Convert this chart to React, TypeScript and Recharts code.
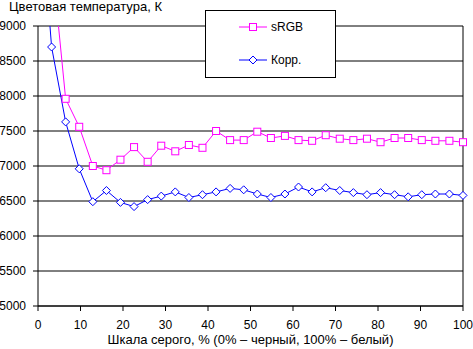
import React from "react";
import {
  CartesianGrid,
  Legend,
  Line,
  LineChart,
  ReferenceLine,
  XAxis,
  YAxis,
} from "recharts";

// gray level, % (0% black .. 100% white)
const grayLevels = [
  0, 3.2, 6.5, 9.7, 12.9, 16.1, 19.4, 22.6, 25.8, 29.0, 32.3, 35.5, 38.7, 41.9,
  45.2, 48.4, 51.6, 54.8, 58.1, 61.3, 64.5, 67.7, 71.0, 74.2, 77.4, 80.6, 83.9,
  87.1, 90.3, 93.5, 96.8, 100,
];

// colour temperature, K
const srgb = [
  12000, 10000, 7960, 7560, 7000, 6940, 7090, 7270, 7060, 7290, 7210, 7300,
  7260, 7500, 7370, 7370, 7490, 7400, 7430, 7370, 7360, 7440, 7390, 7370, 7390,
  7340, 7400, 7400, 7370, 7360, 7360, 7340,
];

const korr = [
  11200, 8700, 7630, 6960, 6490, 6650, 6480, 6420, 6520, 6570, 6630, 6550,
  6590, 6630, 6680, 6660, 6600, 6550, 6600, 6700, 6630, 6690, 6650, 6620, 6590,
  6620, 6590, 6560, 6590, 6600, 6600, 6580,
];

const xTicks = [0, 10, 20, 30, 40, 50, 60, 70, 80, 90, 100];
const yTicks = [5000, 5500, 6000, 6500, 7000, 7500, 8000, 8500, 9000];

const MAGENTA = "#FF00FF";
const BLUE = "#0000FF";

const data = grayLevels.map((x, i) => ({ x, srgb: srgb[i], korr: korr[i] }));

const SquareDot = (props: any) => {
  const { cx, cy, index } = props;
  if (cx == null || cy == null) return <g key={index} />;
  return (
    <rect
      key={index}
      x={cx - 3.5}
      y={cy - 3.5}
      width={7}
      height={7}
      fill="#fff"
      stroke={MAGENTA}
    />
  );
};

const DiamondDot = (props: any) => {
  const { cx, cy, index } = props;
  if (cx == null || cy == null) return <g key={index} />;
  return (
    <path
      key={index}
      d={`M${cx - 4},${cy} L${cx},${cy - 4} L${cx + 4},${cy} L${cx},${cy + 4} Z`}
      fill="#fff"
      stroke={BLUE}
    />
  );
};

function LegendBox(props: any) {
  const { payload = [] } = props;
  return (
    <div
      style={{
        position: "relative",
        width: 131,
        height: 68,
        boxSizing: "border-box",
        border: "1px solid #000",
        background: "#fff",
      }}
    >
      {payload.map((entry: any, i: number) => {
        const isSquare = entry.dataKey === "srgb";
        return (
          <div
            key={entry.value}
            style={{
              position: "absolute",
              left: 33,
              top: i === 0 ? 9 : 42,
              height: 14,
              display: "flex",
              alignItems: "center",
            }}
          >
            <svg width={28} height={10} style={{ display: "block" }}>
              <line x1={0} y1={5} x2={28} y2={5} stroke={entry.color} />
              {isSquare ? (
                <rect x={10.5} y={1.5} width={7} height={7} fill="#fff" stroke={entry.color} />
              ) : (
                <path d="M10,5 L14,1 L18,5 L14,9 Z" fill="#fff" stroke={entry.color} />
              )}
            </svg>
            <span style={{ marginLeft: 4, fontSize: 12, color: "#000" }}>
              {entry.value}
            </span>
          </div>
        );
      })}
    </div>
  );
}

export default function App() {
  return (
    <div
      style={{
        position: "absolute",
        left: 0,
        top: 0,
        width: 473,
        height: 349,
        background: "#fff",
        fontFamily: '"Liberation Sans", Arial, sans-serif',
      }}
    >
      <LineChart
        width={473}
        height={349}
        data={data}
        margin={{ top: 26, right: 10, bottom: 0, left: 0 }}
      >
        <CartesianGrid vertical={false} stroke="#000" />
        <XAxis
          dataKey="x"
          type="number"
          domain={[0, 100]}
          ticks={xTicks}
          interval={0}
          height={43}
          tickSize={5}
          tickMargin={9}
          stroke="#000"
          tick={{ fill: "#000", fontSize: 12 }}
          label={{
            value: "Шкала серого, % (0% – черный, 100% – белый)",
            position: "insideBottom",
            offset: 5,
            fill: "#000",
            fontSize: 13,
          }}
        />
        <YAxis
          type="number"
          domain={[5000, 9000]}
          ticks={yTicks}
          interval={0}
          allowDataOverflow
          width={38}
          tickSize={5}
          tickMargin={7}
          stroke="#000"
          tick={{ fill: "#000", fontSize: 12 }}
        />
        <ReferenceLine x={100} stroke="#000" />
        <Legend
          layout="horizontal"
          verticalAlign="middle"
          align="center"
          content={<LegendBox />}
          wrapperStyle={{ left: 205, top: 10, width: 131, height: 68 }}
        />
        <Line
          dataKey="srgb"
          name="sRGB"
          stroke={MAGENTA}
          strokeWidth={1}
          dot={SquareDot}
          activeDot={false}
          isAnimationActive={false}
        />
        <Line
          dataKey="korr"
          name="Корр."
          stroke={BLUE}
          strokeWidth={1}
          dot={DiamondDot}
          activeDot={false}
          isAnimationActive={false}
        />
      </LineChart>
      <div
        style={{
          position: "absolute",
          left: 9,
          top: 0,
          fontSize: 13,
          lineHeight: "13px",
          color: "#000",
          whiteSpace: "nowrap",
        }}
      >
        Цветовая температура, К
      </div>
    </div>
  );
}
